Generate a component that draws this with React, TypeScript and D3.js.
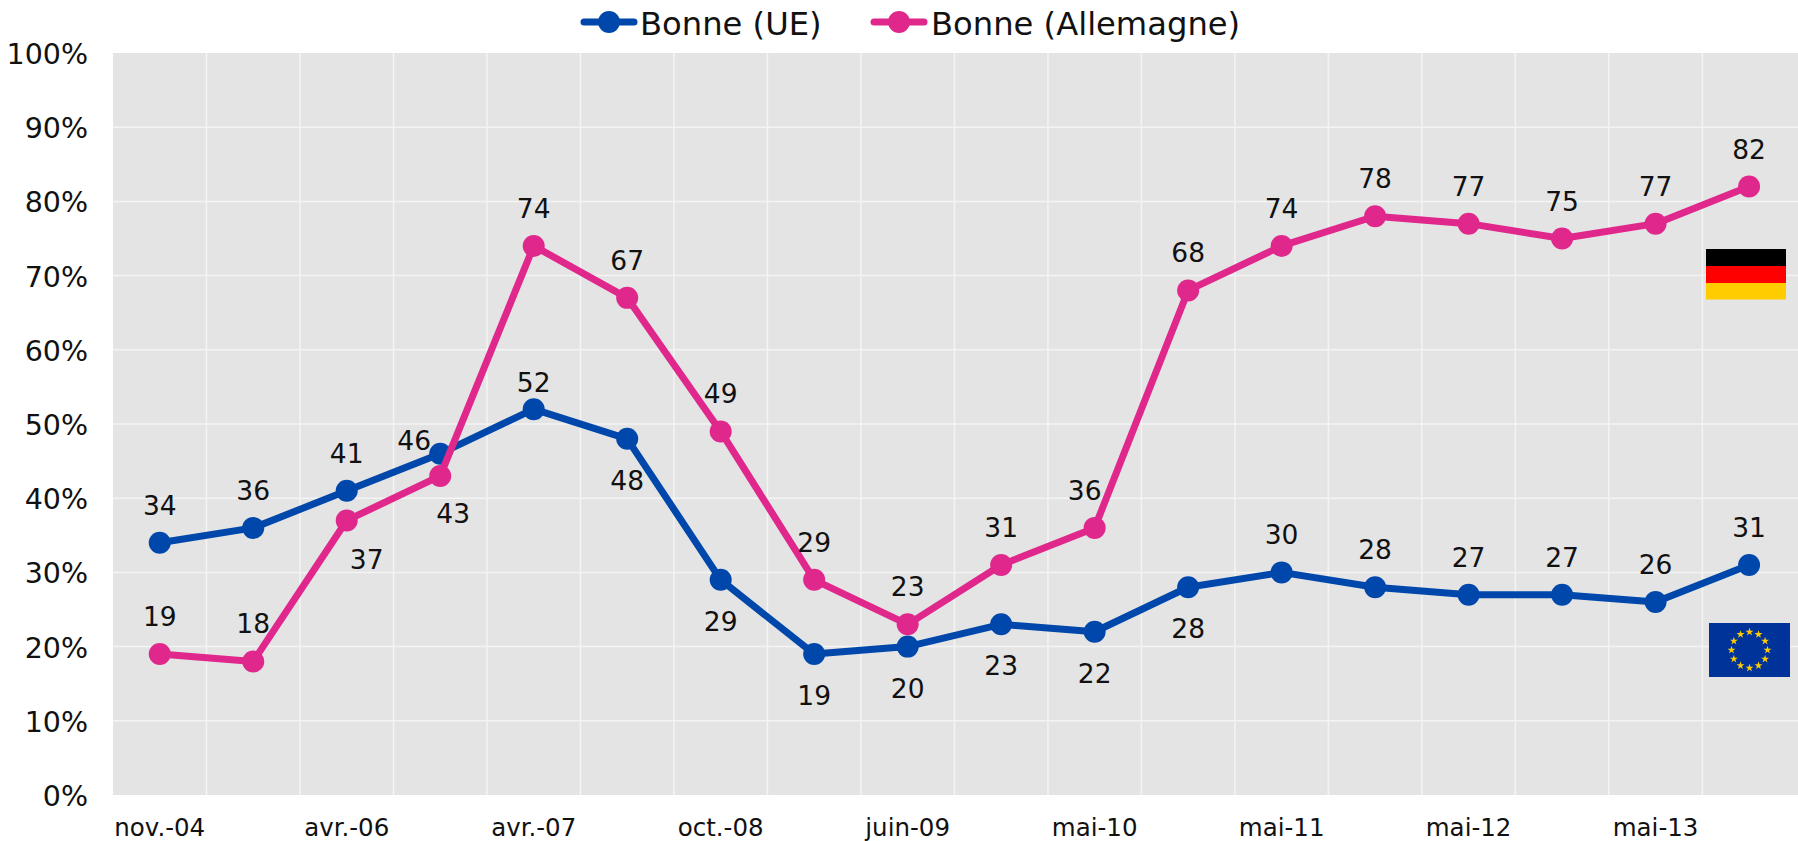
import React from "react";
import * as d3 from "d3";

const W = 1798, H = 841;
const categories = ["nov.-04","juin-05","avr.-06","oct.-06","avr.-07","oct.-07","oct.-08","janv.-09","juin-09","nov.-09","mai-10","nov.-10","mai-11","nov.-11","mai-12","nov.-12","mai-13","nov.-13"];
const ueValues = [34,36,41,46,52,48,29,19,20,23,22,28,30,28,27,27,26,31];
const deValues = [19,18,37,43,74,67,49,29,23,31,36,68,74,78,77,75,77,82];
const yTicks = [0,10,20,30,40,50,60,70,80,90,100];
// label placement: vertical side (-1 above / 1 below), sideways shift and fine vertical nudge
const ueSide = [-1,-1,-1,-1,-1,1,1,1,1,1,1,1,-1,-1,-1,-1,-1,-1];
const deSide = [-1,-1,1,1,-1,-1,-1,-1,-1,-1,-1,-1,-1,-1,-1,-1,-1,-1];
const ueShift = [0,0,0,-26,0,0,0,0,0,0,0,0,0,0,0,0,0,0];
const deShift = [0,0,20,13,0,0,0,0,0,0,-10,0,0,0,0,0,0,0];
const ueNudge = [0,0,0,24,11,0,0,0,0,0,0,0,0,0,0,0,0,0];
const deNudge = [0,0,-2,-4,0,0,0,0,0,0,0,0,0,0,0,0,0,0];

const UE = "#0047AB", DE = "#E0288C";
const FONT = "'DejaVu Sans', Verdana, sans-serif";

const euStars = d3.range(12);

export default function App() {
  const x = d3.scaleBand<string>().domain(categories).range([113, 113 + 18 * 93.49]);
  const y = d3.scaleLinear().domain([0, 100]).range([795, 53]);
  const cx = (i: number) => (x(categories[i]) as number) + x.bandwidth() / 2;
  const line = d3.line<number>().x((_, i) => cx(i)).y((v) => y(v));
  const star = d3.symbol().type(d3.symbolStar).size(20)() as string;
  const series = [
    { name: "Bonne (UE)", color: UE, values: ueValues, side: ueSide, shift: ueShift, nudge: ueNudge },
    { name: "Bonne (Allemagne)", color: DE, values: deValues, side: deSide, shift: deShift, nudge: deNudge },
  ];
  const legend = [
    { lx: 584, tx: 640, color: UE, name: series[0].name },
    { lx: 874, tx: 931, color: DE, name: series[1].name },
  ];
  return (
    <svg width={W} height={H} style={{ position: "absolute", left: 0, top: 0, display: "block" }} fontFamily={FONT}>
      <rect x={113} y={53} width={W - 113} height={742} fill="#E4E4E4" />
      {yTicks.map((t) => (
        <g key={t}>
          {t > 0 && t < 100 && <line x1={113} x2={W} y1={y(t)} y2={y(t)} stroke="#F4F4F4" strokeWidth={1.5} />}
          <text x={88} y={y(t) + 11} textAnchor="end" fontSize={28.5} fill="#111">{t}%</text>
        </g>
      ))}
      {categories.map((c, i) => (
        <g key={c}>
          {i > 0 && <line x1={x(c)} x2={x(c)} y1={53} y2={795} stroke="#F4F4F4" strokeWidth={1.5} />}
          {i % 2 === 0 && <text x={cx(i)} y={836} textAnchor="middle" fontSize={24.5} fill="#111">{c}</text>}
        </g>
      ))}
      {series.map((s) => (
        <g key={s.name}>
          <path d={line(s.values) as string} fill="none" stroke={s.color} strokeWidth={7} strokeLinejoin="round" />
          {s.values.map((v, i) => (
            <circle key={i} cx={cx(i)} cy={y(v)} r={11} fill={s.color} />
          ))}
        </g>
      ))}
      {series.map((s) =>
        s.values.map((v, i) => (
          <text key={s.name + i} x={cx(i) + s.shift[i]} y={y(v) + (s.side[i] < 0 ? -28 : 51) + s.nudge[i]} textAnchor="middle" fontSize={26.5} fill="#111">{v}</text>
        ))
      )}
      {legend.map((l) => (
        <g key={l.name}>
          <line x1={l.lx} x2={l.lx + 50} y1={22} y2={22} stroke={l.color} strokeWidth={7} strokeLinecap="round" />
          <circle cx={l.lx + 25} cy={22} r={11} fill={l.color} />
          <text x={l.tx} y={35} fontSize={32.2} fill="#111">{l.name}</text>
        </g>
      ))}
      <g>
        <rect x={1706} y={249} width={80} height={17} fill="#000" />
        <rect x={1706} y={266} width={80} height={17} fill="#F00" />
        <rect x={1706} y={283} width={80} height={16.5} fill="#FFCC00" />
      </g>
      <g>
        <rect x={1709} y={623} width={81} height={54} fill="#003399" />
        {euStars.map((i) => {
          const a = (i * Math.PI) / 6;
          return <path key={i} d={star} fill="#FFCC00" transform={`translate(${1749.5 + 18 * Math.sin(a)},${650 - 18 * Math.cos(a)})`} />;
        })}
      </g>
    </svg>
  );
}
